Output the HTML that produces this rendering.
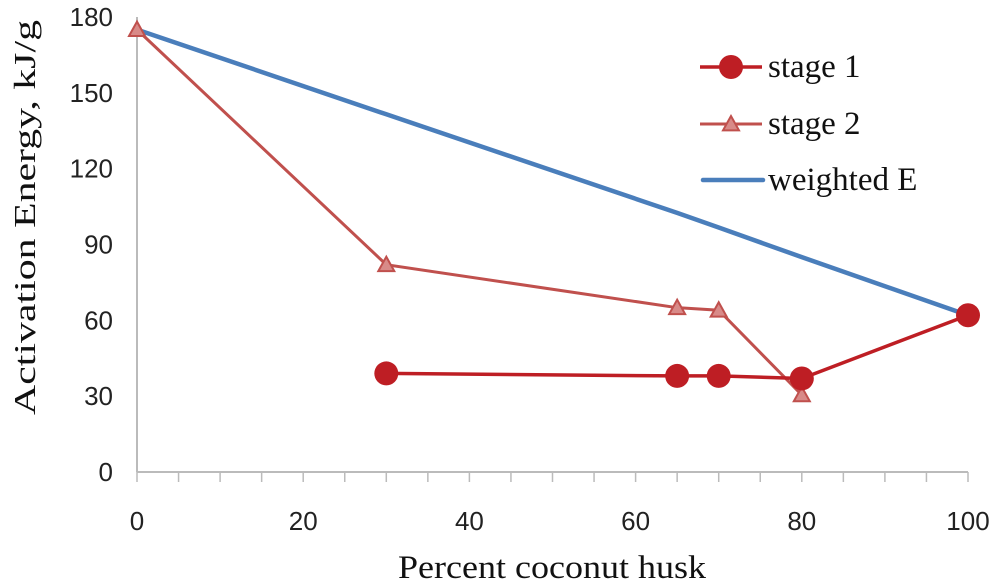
<!DOCTYPE html>
<html><head><meta charset="utf-8"><style>
body{margin:0;background:#fff;}
svg{display:block;}
.tk{font-family:"Liberation Sans",sans-serif;font-size:26px;fill:#222;}
.tt{font-family:"Liberation Serif",serif;font-size:33px;fill:#111;}
.yt{font-family:"Liberation Serif",serif;font-size:31px;fill:#111;}
.lg{font-family:"Liberation Serif",serif;font-size:33px;fill:#111;}
</style></head><body>
<svg id="c" width="1000" height="585"></svg>
<script>
const xTicks=[0,20,40,60,80,100];
const yTicks=[0,30,60,90,120,150,180];
const s1x=[30,65,70,80,100];
const s1y=[39,38,38,37,62];
const s2x=[0,30,65,70,80];
const s2y=[175,82,65,64,30.5];
const wx=[0,30,65,70,80,100];
const wy=[175,141.5,102.5,96.7,85,62];
const svg=document.getElementById('c');
const NS='http://www.w3.org/2000/svg';
const X=v=>137+v*8.31;
const Y=v=>472-v*2.528;
function mk(t,a){const e=document.createElementNS(NS,t);for(const k in a)e.setAttribute(k,a[k]);svg.appendChild(e);return e;}
let e;
e=mk('line',{x1:137,y1:472,x2:968,y2:472,stroke:'#bbb','stroke-width':2});


e=mk('line',{x1:137,y1:17,x2:137,y2:472,stroke:'#bbb','stroke-width':2});


for(let v=0;v<=100;v+=5){e=mk('line',{x1:X(v),y1:472,x2:X(v),y2:482,stroke:'#bbb','stroke-width':1.5});

}
xTicks.forEach(v=>{e=mk('text',{x:X(v),y:530,'text-anchor':'middle',class:'tk'});e.textContent=v;

});
yTicks.forEach(v=>{e=mk('text',{x:113,y:Y(v)+9,'text-anchor':'end',class:'tk'});e.textContent=v;

});
e=mk('text',{x:398,y:578,class:'tt',textLength:308,lengthAdjust:'spacingAndGlyphs'});e.textContent='Percent coconut husk';


e=mk('text',{x:0,y:0,class:'yt',textLength:395,lengthAdjust:'spacingAndGlyphs',transform:'translate(35,415) rotate(-90)'});e.textContent='Activation Energy,  kJ/g';


function pts(xs,ys){return xs.map((x,i)=>X(x)+','+Y(ys[i])).join(' ');}
e=mk('polyline',{points:pts(wx,wy),fill:'none',stroke:'#4a7ebb','stroke-width':4.5});


e=mk('polyline',{points:pts(s2x,s2y),fill:'none',stroke:'#c0504d','stroke-width':3});


function tri(cx,cy,r){return `${cx},${cy-r} ${cx-r},${cy+r*0.8} ${cx+r},${cy+r*0.8}`;}
s2x.forEach((x,i)=>{e=mk('polygon',{points:tri(X(x),Y(s2y[i]),8),fill:'#d88a88',stroke:'#c0504d','stroke-width':2});

});
e=mk('polyline',{points:pts(s1x,s1y),fill:'none',stroke:'#be1e24','stroke-width':3.5});


s1x.forEach((x,i)=>{e=mk('circle',{cx:X(x),cy:Y(s1y[i]),r:12,fill:'#be1e24'});

});
e=mk('line',{x1:700,y1:67,x2:762,y2:67,stroke:'#be1e24','stroke-width':3.5});


e=mk('circle',{cx:731,cy:67,r:12,fill:'#be1e24'});


e=mk('line',{x1:700,y1:124,x2:762,y2:124,stroke:'#c0504d','stroke-width':3});


e=mk('polygon',{points:tri(731,124,8),fill:'#d88a88',stroke:'#c0504d','stroke-width':2});


e=mk('line',{x1:703,y1:180,x2:763,y2:180,stroke:'#4a7ebb','stroke-width':4.5,'stroke-linecap':'round'});


[['stage 1',67],['stage 2',124],['weighted E',180]].forEach(([t,y])=>{e=mk('text',{x:768,y:y+10,class:'lg'});e.textContent=t;

});
</script>
</body></html>
